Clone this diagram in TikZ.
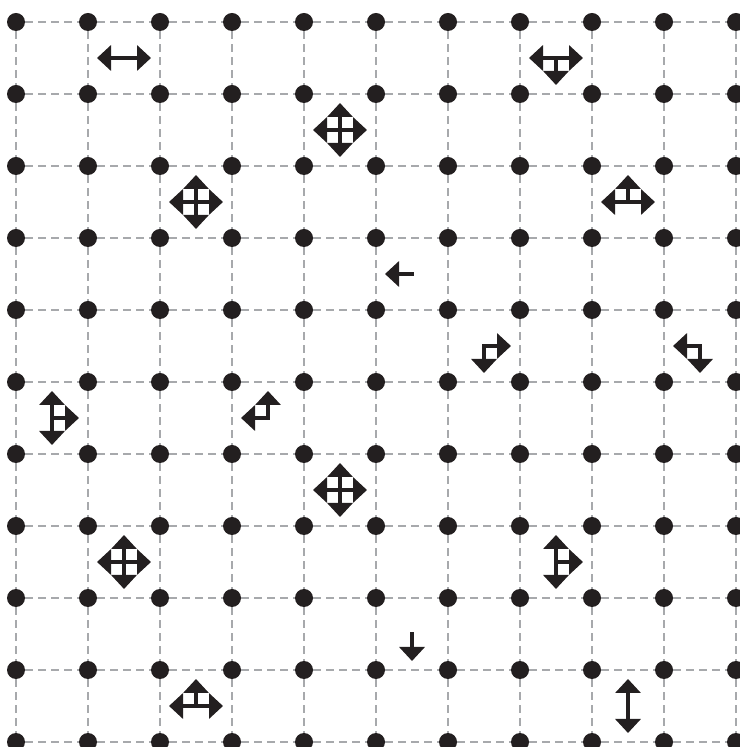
\documentclass[tikz,border=0pt]{standalone}
\usepackage{xcolor}
\usepackage{tikz}
\usetikzlibrary{shapes,arrows.meta,positioning,calc}
\definecolor{dotblack}{RGB}{35, 31, 32}
\definecolor{gridgray}{RGB}{167, 169, 172}

\begin{document}
\begin{tikzpicture}[x=1pt, y=1pt,
    dot/.style={circle, fill=dotblack, inner sep=0pt, minimum size=18pt},
    gridline/.style={gridgray, line width=2.8pt, dash pattern=on 7.5pt off 5.5pt},
    ray/.style={dotblack, line width=3.8pt, line cap=rect, -{Triangle[width=25pt 0 0, length=14pt 0 0]}}]
    \useasboundingbox (0,0) rectangle (739,747);
    \foreach \i in {0,...,10}
        \foreach \j in {0,...,10}
            \node[dot] (d-\i-\j) at (16+72*\i, 725-72*\j) {};
    \foreach \i in {0,...,10}
        \foreach \j [count=\k] in {0,...,9} {
            \draw[gridline] (d-\i-\j) -- (d-\i-\k);
            \draw[gridline] (d-\j-\i) -- (d-\k-\i);
        }
    \foreach \c/\r/\dirs in {1/0/{0,180}, 7/0/{0,180,270}, 4/1/{0,90,180,270},
            2/2/{0,90,180,270}, 8/2/{0,90,180}, 5/3/{180}, 6/4/{0,270},
            9/4/{180,270}, 0/5/{0,90,270}, 3/5/{90,180}, 4/6/{0,90,180,270},
            1/7/{0,90,180,270}, 7/7/{0,90,270}, 5/8/{270}, 2/9/{0,90,180},
            8/9/{90,270}} {
        \coordinate (m) at ($(d-\c-\r)+(36pt,-36pt)$);
        \foreach \a in \dirs
            \draw[ray] (m) -- ++(\a:27pt);
    }
\end{tikzpicture}
\end{document}
